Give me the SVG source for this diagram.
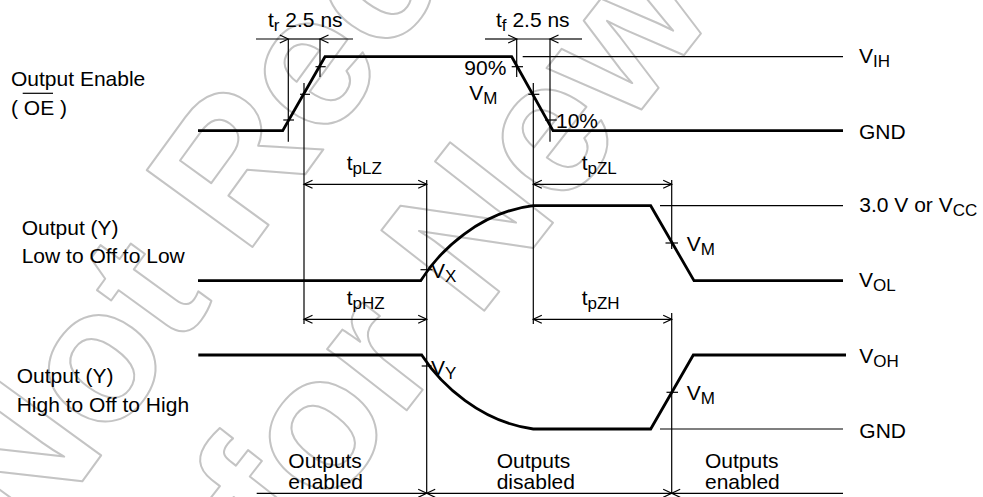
<svg xmlns="http://www.w3.org/2000/svg" width="983" height="497" viewBox="0 0 983 497">
<style>
.t{font-family:"Liberation Sans",Arial,sans-serif;font-size:21px;fill:#000}
.s{font-size:17px}
.w{fill:none;stroke:#000;stroke-width:2.8;stroke-linejoin:miter}
.l{fill:none;stroke:#000;stroke-width:1.2}
.wm{font-family:"Liberation Sans",Arial,sans-serif;font-weight:bold;fill:none;stroke:#c4c4c4;stroke-width:2;stroke-linejoin:round}
</style>
<defs>
<marker id="ah" viewBox="-10 -5 12 10" refX="0" refY="0" markerWidth="12" markerHeight="10" markerUnits="userSpaceOnUse" orient="auto-start-reverse">
<path d="M-8.5,-4 L0,0 L-8.5,4" fill="none" stroke="#000" stroke-width="1.2"/>
</marker>
</defs>
<rect width="983" height="497" fill="#fff"/>
<g id="watermark" class="wm">
<text font-size="190" transform="translate(28,556) rotate(-54)">Not Recommended</text>
<text font-size="190" transform="translate(288,562) rotate(-52)">for New Design</text>
</g>
<g id="connectors">
<line class="l" x1="288.3" y1="39" x2="288.3" y2="141.7"/>
<line class="l" x1="320" y1="39" x2="320" y2="77"/>
<line class="l" x1="304" y1="83" x2="304" y2="324"/>
<line class="l" x1="516.7" y1="39" x2="516.7" y2="77"/>
<line class="l" x1="550" y1="39" x2="550" y2="141.7"/>
<line class="l" x1="533.3" y1="83" x2="533.3" y2="324"/>
<line class="l" x1="426.7" y1="180" x2="426.7" y2="493"/>
<line class="l" x1="671.7" y1="180" x2="671.7" y2="249"/>
<line class="l" x1="671.7" y1="313" x2="671.7" y2="493"/>
<line class="l" x1="256" y1="39" x2="288.3" y2="39" marker-end="url(#ah)"/>
<line class="l" x1="288.3" y1="39" x2="320" y2="39"/>
<line class="l" x1="353" y1="39" x2="320" y2="39" marker-end="url(#ah)"/>
<line class="l" x1="485" y1="39" x2="516.7" y2="39" marker-end="url(#ah)"/>
<line class="l" x1="516.7" y1="39" x2="550" y2="39"/>
<line class="l" x1="582" y1="39" x2="550" y2="39" marker-end="url(#ah)"/>
<line class="l" x1="304" y1="184.3" x2="426.7" y2="184.3" marker-start="url(#ah)" marker-end="url(#ah)"/>
<line class="l" x1="304" y1="319.3" x2="426.7" y2="319.3" marker-start="url(#ah)" marker-end="url(#ah)"/>
<line class="l" x1="533.3" y1="184.3" x2="671.7" y2="184.3" marker-start="url(#ah)" marker-end="url(#ah)"/>
<line class="l" x1="533.3" y1="319.3" x2="671.7" y2="319.3" marker-start="url(#ah)" marker-end="url(#ah)"/>
<line class="l" x1="256.7" y1="493.3" x2="426.7" y2="493.3" marker-end="url(#ah)"/>
<line class="l" x1="426.7" y1="493.3" x2="671.7" y2="493.3" marker-start="url(#ah)" marker-end="url(#ah)"/>
<line class="l" x1="843" y1="493.3" x2="671.7" y2="493.3" marker-end="url(#ah)"/>
<line class="l" x1="522.7" y1="56.7" x2="843" y2="56.7"/>
<line class="l" x1="660" y1="205.7" x2="843" y2="205.7"/>
<line class="l" x1="660" y1="429" x2="843" y2="429"/>
<line class="l" x1="283.3" y1="120" x2="294" y2="120"/>
<line class="l" x1="300" y1="94.3" x2="310" y2="94.3"/>
<line class="l" x1="315.5" y1="66.7" x2="325.7" y2="66.7"/>
<line class="l" x1="511.7" y1="66.7" x2="523" y2="66.7"/>
<line class="l" x1="528.3" y1="94.3" x2="539.3" y2="94.3"/>
<line class="l" x1="545" y1="120" x2="556.7" y2="120"/>
<line class="l" x1="420.5" y1="269.7" x2="432.5" y2="269.7"/>
<line class="l" x1="421.7" y1="366" x2="431.7" y2="366"/>
<line class="l" x1="665.5" y1="243" x2="678" y2="243"/>
<line class="l" x1="666.5" y1="392.3" x2="678" y2="392.3"/>
</g>
<g id="wave-oe"><path class="w" d="M198,130.7 L282.7,130.7 L325,56.7 L511.7,56.7 L553,130.7 L843,130.7"/></g>
<g id="wave-low"><path class="w" d="M198,280.7 L420.7,280.7 C440,250 480,212 533.3,205.7 L650.7,205.7 L694,280.7 L843,280.7"/></g>
<g id="wave-high"><path class="w" d="M198.3,355 L421.7,355 C441,385 481,422 533.3,429 L650.7,429 L693.3,355 L846,355"/></g>
<g id="labels" class="t">
<text x="11" y="85.7">Output Enable</text>
<text x="11" y="115">( OE )</text>
<text x="21.7" y="235">Output (Y)</text>
<text x="21.7" y="263.3">Low to Off to Low</text>
<text x="16.7" y="383.3">Output (Y)</text>
<text x="16.7" y="411.7">High to Off to High</text>
<text x="268" y="26.7">t<tspan class="s" dy="4">r</tspan><tspan dy="-4"> 2.5 ns</tspan></text>
<text x="496" y="26.7">t<tspan class="s" dy="4">f</tspan><tspan dy="-4"> 2.5 ns</tspan></text>
<text x="464.3" y="75">90%</text>
<text x="469.3" y="100">V<tspan class="s" dy="4">M</tspan></text>
<text x="556" y="127.7">10%</text>
<text x="859" y="63.3">V<tspan class="s" dy="4">IH</tspan></text>
<text x="859" y="139">GND</text>
<text x="346.7" y="170">t<tspan class="s" dy="4">pLZ</tspan></text>
<text x="581.7" y="170">t<tspan class="s" dy="4">pZL</tspan></text>
<text x="859.3" y="212.3">3.0 V or V<tspan class="s" dy="4">CC</tspan></text>
<text x="686.7" y="250.7">V<tspan class="s" dy="4">M</tspan></text>
<text x="431" y="278.3">V<tspan class="s" dy="4">X</tspan></text>
<text x="859" y="286.7">V<tspan class="s" dy="4">OL</tspan></text>
<text x="346.7" y="305">t<tspan class="s" dy="4">pHZ</tspan></text>
<text x="581.7" y="305">t<tspan class="s" dy="4">pZH</tspan></text>
<text x="859.3" y="363.3">V<tspan class="s" dy="4">OH</tspan></text>
<text x="431" y="375">V<tspan class="s" dy="4">Y</tspan></text>
<text x="686.7" y="400">V<tspan class="s" dy="4">M</tspan></text>
<text x="859.3" y="438.3">GND</text>
<text x="288.3" y="468.3">Outputs</text>
<text x="288.3" y="489">enabled</text>
<text x="496.7" y="468.3">Outputs</text>
<text x="496.7" y="489">disabled</text>
<text x="705" y="468.3">Outputs</text>
<text x="705" y="489">enabled</text>
</g>
<line class="l" x1="22.7" y1="93.3" x2="53" y2="93.3" stroke="#444"/>
</svg>
